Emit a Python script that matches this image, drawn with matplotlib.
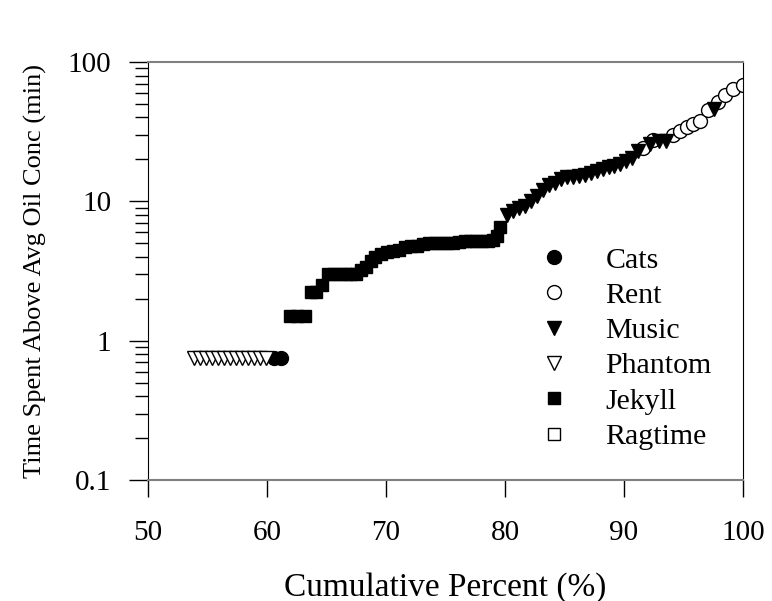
import matplotlib.pyplot as plt
from matplotlib.ticker import LogLocator, NullFormatter, FixedLocator, FixedFormatter

plt.rcParams['font.family'] = ['Liberation Serif', 'DejaVu Serif']

# cumulative percent (x) and time above avg oil conc (y, min)
cats_x = [60.6, 61.2]
cats_y = [0.75, 0.75]

rent_x = [91.6, 92.4, 94.1, 94.7, 95.3, 95.8, 96.4, 97.1, 97.9, 98.5, 99.2, 100.0]
rent_y = [24, 27.5, 30, 32, 34, 36, 38, 45, 52, 58, 64, 68]

music_x = [80.2, 80.7, 81.2, 81.7, 82.2, 82.7, 83.2, 83.7, 84.2, 84.7, 85.2, 85.7,
           86.2, 86.7, 87.2, 87.7, 88.2, 88.7, 89.2, 89.7, 90.2, 90.7, 91.2, 92.2,
           92.9, 93.5, 97.6]
music_y = [8.0, 8.5, 9.0, 9.3, 10.0, 11.0, 12.0, 13.0, 13.5, 14.5, 15.0, 15.0,
           15.2, 15.5, 16.0, 16.5, 17.0, 17.5, 18.0, 18.5, 19.5, 20.5, 23.0, 26.0,
           27.0, 27.0, 46.0]

phantom_x = [53.9, 54.4, 54.9, 55.4, 55.9, 56.4, 56.9, 57.4, 57.9, 58.4, 58.9, 59.4, 59.9]
phantom_y = [0.75] * 13

jekyll_x = [61.9, 62.5, 63.2, 63.7, 64.1, 64.6, 65.1, 65.6, 66.1, 66.6, 67.1, 67.5,
            67.9, 68.3, 68.7, 69.1, 69.6, 70.1, 70.6, 71.1, 71.6, 72.1, 72.6, 73.1,
            73.6, 74.1, 74.6, 75.1, 75.6, 76.1, 76.6, 77.1, 77.6, 78.1, 78.6, 79.0,
            79.3, 79.6]
jekyll_y = [1.5, 1.5, 1.5, 2.25, 2.25, 2.5, 3.0, 3.0, 3.0, 3.0, 3.0, 3.0,
            3.2, 3.4, 3.7, 4.0, 4.2, 4.3, 4.4, 4.5, 4.7, 4.8, 4.8, 4.9,
            5.0, 5.0, 5.0, 5.0, 5.0, 5.1, 5.2, 5.2, 5.2, 5.2, 5.2, 5.3,
            5.6, 6.5]

ragtime_x = []
ragtime_y = []

fig = plt.figure(figsize=(7.72, 6.01), dpi=100)
ax = fig.add_axes([148 / 772, 1 - 480 / 601, (743 - 148) / 772, (480 - 62) / 601])

ms = 10
ax.plot(cats_x, cats_y, 'o', ms=ms, mfc='black', mec='black', label='Cats')
ax.plot(rent_x, rent_y, 'o', ms=ms, mfc='white', mec='black', mew=1, label='Rent')
ax.plot(music_x, music_y, 'v', ms=ms, mfc='black', mec='black', label='Music')
ax.plot(phantom_x, phantom_y, 'v', ms=ms, mfc='white', mec='black', mew=1, label='Phantom')
ax.plot(jekyll_x, jekyll_y, 's', ms=ms - 1, mfc='black', mec='black', label='Jekyll')
ax.plot(ragtime_x, ragtime_y, 's', ms=ms - 1, mfc='white', mec='black', mew=1, label='Ragtime')

ax.set_xlim(50, 100)
ax.set_yscale('log')
ax.set_ylim(0.1, 100)
ax.set_xticks([50, 60, 70, 80, 90, 100])
ax.yaxis.set_major_locator(FixedLocator([0.1, 1, 10, 100]))
ax.yaxis.set_major_formatter(FixedFormatter(['0.1', '1', '10', '100']))
ax.yaxis.set_minor_locator(LogLocator(base=10, subs=range(2, 10)))
ax.yaxis.set_minor_formatter(NullFormatter())

ax.tick_params(axis='both', which='major', direction='out', width=1,
               labelsize=21, top=False, right=False)
ax.tick_params(axis='x', which='major', length=12, pad=17)
ax.tick_params(axis='y', which='major', length=13.5, pad=13)
ax.tick_params(axis='y', which='minor', direction='out', length=9.5, width=1)

for side in ['left', 'right']:
    ax.spines[side].set_color('black')
for side in ['top', 'bottom']:
    ax.spines[side].set_color('#808080')
    ax.spines[side].set_linewidth(1.5)

ax.set_ylabel('Time Spent Above Avg Oil Conc (min)', fontsize=19, labelpad=15)
ax.set_xlabel('Cumulative Percent (%)', fontsize=24, labelpad=19)

ax.legend(loc='upper left', bbox_to_anchor=(0.633, 0.558), frameon=False,
          fontsize=21.5, handlelength=2.0, handletextpad=0.7, labelspacing=0.28,
          borderaxespad=0, borderpad=0)

fig.savefig('out.png', dpi=100)
